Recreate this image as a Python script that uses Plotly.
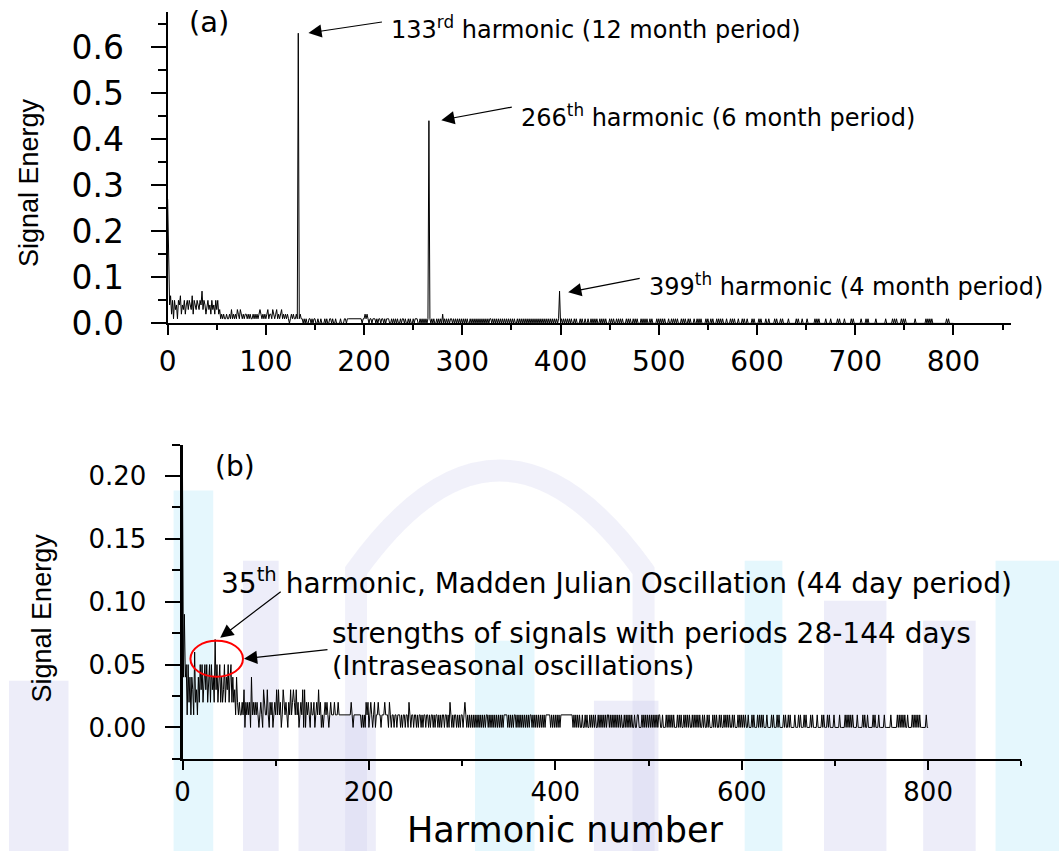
import plotly.graph_objects as go

# Signal energy per harmonic, in hundredths
# Panel (a): harmonics 0..800
energy_a_hundredths = [
    27,9,4,6,2,5,1,5,3,4, 1,5,4,6,2,4,3,5,2,4,      # 0-19
    5,3,5,4,3,6,2,5,4,3, 5,4,3,5,4,7,3,5,4,2,       # 20-39
    4,5,3,4,2,5,3,4,2,5, 3,5,2,3,1,2,1,2,1,1,       # 40-59
    2,1,1,2,1,3,1,2,1,2, 1,3,2,1,3,2,1,2,1,2,       # 60-79
    2,1,2,1,2,1,1,2,1,2, 1,2,1,2,3,2,1,2,1,2,       # 80-99
    1,2,3,1,2,2,1,3,2,1, 2,3,1,2,1,2,3,1,2,1,       # 100-119
    2,1,2,1,0,1,2,1,2,1, 1,2,1,63,1,2,1,1,0,1,      # 120-139
    0,1,0,0,1,1,0,1,0,1, 1,0,0,1,0,0,1,0,0,0,       # 140-159
    1,0,1,0,0,1,1,0,1,0, 0,1,0,0,0,0,1,0,0,0,       # 160-179
    1,1,0,1,1,1,1,1,1,1, 1,1,1,1,1,1,1,1,0,1,       # 180-199
    1,2,1,2,1,0,1,1,0,1, 1,1,0,1,0,1,1,0,1,1,       # 200-219
    0,1,0,1,1,1,0,0,1,0, 1,0,1,0,1,0,0,1,0,1,       # 220-239
    1,0,1,0,0,1,0,1,0,0, 1,0,1,1,1,0,0,1,0,1,       # 240-259
    0,1,0,1,0,1,44,1,0,1, 0,1,0,0,1,0,1,0,1,0,      # 260-279
    2,0,1,0,1,0,1,0,1,1, 0,1,0,1,0,1,0,1,0,1,       # 280-299
    0,1,0,1,0,1,0,0,1,0, 1,0,1,0,1,0,1,0,1,0,       # 300-319
    1,0,1,0,1,0,1,0,1,1, 0,1,0,1,0,1,0,1,0,1,       # 320-339
    0,1,0,1,0,1,0,1,0,1, 0,1,0,1,0,0,1,0,1,0,       # 340-359
    1,0,1,0,1,0,1,0,1,0, 1,0,1,0,1,0,1,0,1,0,       # 360-379
    1,0,1,0,1,0,1,0,1,0, 1,0,1,0,1,0,1,0,1,7,       # 380-399
    0,1,0,1,0,1,0,1,0,1, 0,1,0,0,1,0,1,0,0,0,       # 400-419
    1,0,1,0,0,1,0,0,1,0, 0,1,0,1,0,1,0,1,0,0,       # 420-439
    1,0,1,0,1,0,1,0,0,0, 1,0,1,0,1,0,0,1,0,1,       # 440-459
    0,1,0,1,0,0,0,1,0,1, 0,1,0,0,1,0,1,0,1,0,       # 460-479
    0,0,1,0,1,0,1,0,1,0, 0,1,0,1,0,0,0,0,1,0,       # 480-499
    1,0,1,0,1,0,1,0,0,0, 1,0,0,1,0,1,0,1,0,1,       # 500-519
    0,0,0,1,0,1,0,1,0,0, 1,0,1,0,0,0,1,0,0,1,       # 520-539
    0,1,0,1,0,0,0,0,1,0, 1,0,0,1,0,1,0,0,0,1,       # 540-559
    0,1,0,1,0,1,0,0,0,1, 0,0,0,1,0,1,0,1,0,0,       # 560-579
    0,1,0,0,0,1,0,1,0,0, 1,0,0,0,0,1,0,1,0,0,       # 580-599
    0,0,1,0,1,0,0,0,0,1, 0,0,1,0,0,0,0,0,1,0,       # 600-619
    1,0,0,0,1,0,1,0,0,0, 0,0,1,0,0,0,0,0,0,0,       # 620-639
    1,0,1,0,0,0,1,0,0,0, 0,1,0,0,0,0,0,0,0,1,       # 640-659
    0,1,0,1,0,0,0,0,0,0, 1,0,0,0,0,1,0,0,0,0,       # 660-679
    0,0,1,0,1,0,0,0,0,1, 0,0,0,0,0,0,1,0,1,0,       # 680-699
    0,0,0,0,0,0,1,0,0,0, 0,1,0,1,0,0,0,0,0,0,       # 700-719
    0,1,0,0,0,0,0,0,0,0, 0,1,0,0,0,0,0,0,1,0,       # 720-739
    1,0,1,0,0,0,0,1,0,1, 0,1,0,0,0,0,0,0,0,0,       # 740-759
    0,1,0,0,0,0,0,0,0,0, 0,0,1,0,1,0,1,0,1,0,       # 760-779
    0,0,0,0,0,0,0,0,0,0, 0,0,0,1,0,1,0,0,0,0,       # 780-799
    0,                                              # 800
]

# Panel (b): harmonics 0..800
energy_b_hundredths = [
    20,4,9,4,5,1,5,2,4,1, 4,3,1,6,2,3,1,4,2,5,      # 0-19
    3,5,2,4,5,3,5,2,4,5, 2,5,3,4,2,7,3,5,2,4,       # 20-39
    5,2,4,2,3,5,2,4,3,5, 2,4,5,2,4,2,3,1,4,2,       # 40-59
    1,2,1,1,2,1,3,0,2,1, 2,1,2,0,4,1,2,1,2,1,       # 60-79
    2,1,0,1,2,1,0,3,2,1, 1,3,1,0,2,1,2,0,1,2,       # 80-99
    1,3,1,3,1,2,0,1,3,2, 1,2,1,0,2,1,3,1,2,3,       # 100-119
    2,1,3,1,2,0,1,2,1,3, 0,3,0,2,1,2,1,0,2,1,       # 120-139
    1,2,0,1,2,1,3,1,2,0, 1,0,1,2,1,2,1,0,1,2,       # 140-159
    1,1,1,2,1,1,1,2,1,1, 1,1,1,1,1,1,1,1,1,1,       # 160-179
    1,2,1,0,1,1,1,1,1,1, 1,1,0,1,0,1,0,2,1,2,       # 180-199
    0,1,2,1,0,1,2,0,1,1, 2,1,1,0,1,1,1,2,1,1,       # 200-219
    1,0,2,1,0,1,1,0,1,1, 0,1,1,1,0,1,0,1,1,0,       # 220-239
    1,1,0,2,1,0,1,1,0,1, 1,0,1,0,1,1,0,1,0,1,       # 240-259
    1,0,1,1,0,1,0,1,1,0, 1,0,1,1,0,1,0,1,0,1,       # 260-279
    1,0,1,1,0,1,0,2,1,0, 1,0,1,1,0,1,0,1,0,1,       # 280-299
    1,0,1,2,1,0,1,0,1,0, 1,0,1,0,1,0,1,0,1,0,       # 300-319
    1,0,1,0,1,0,1,1,0,1, 0,1,0,1,0,1,0,1,0,1,       # 320-339
    0,1,0,1,0,1,1,1,1,0, 1,0,1,0,1,0,1,1,0,1,       # 340-359
    0,1,0,1,0,1,0,1,0,1, 0,1,0,1,1,0,1,0,1,0,       # 360-379
    1,0,1,0,1,0,1,0,1,0, 1,1,1,1,1,0,1,0,1,0,       # 380-399
    1,0,1,0,1,0,1,1,1,1, 1,1,1,1,1,1,1,1,1,0,       # 400-419
    1,0,1,0,1,0,1,0,0,1, 0,0,1,0,1,0,0,1,0,1,       # 420-439
    0,1,0,1,0,0,1,0,1,0, 1,0,1,0,1,0,1,1,0,1,       # 440-459
    0,1,0,1,0,1,0,1,0,1, 0,1,0,0,1,0,1,0,1,0,       # 460-479
    1,0,1,0,0,1,0,0,1,1, 0,0,0,1,0,1,0,1,0,1,       # 480-499
    0,1,0,1,0,1,0,1,0,1, 0,1,1,0,0,1,0,0,0,1,       # 500-519
    0,1,0,1,0,1,0,1,0,0, 0,1,0,1,0,1,0,0,1,0,       # 520-539
    1,0,1,0,1,0,0,1,0,1, 0,1,0,1,0,1,0,0,1,0,       # 540-559
    1,0,0,1,0,1,0,0,0,1, 0,1,0,1,0,0,1,0,1,0,       # 560-579
    0,1,0,1,0,1,0,1,0,0, 1,0,1,0,0,0,1,0,1,0,       # 580-599
    1,0,1,0,1,0,0,1,0,0, 0,1,0,1,0,0,0,1,0,1,       # 600-619
    0,1,0,1,0,0,0,1,0,0, 0,0,1,0,1,0,0,0,1,0,       # 620-639
    1,0,0,0,0,1,0,1,0,0, 1,0,1,0,0,0,0,1,0,0,       # 640-659
    0,1,0,1,0,0,0,1,0,1, 0,0,0,0,1,0,1,0,0,0,       # 660-679
    0,1,0,0,0,0,1,0,1,0, 0,0,1,0,1,0,0,0,0,1,       # 680-699
    0,0,0,0,0,1,0,0,0,0, 0,1,0,1,0,1,0,1,0,1,       # 700-719
    0,0,0,0,1,0,0,0,0,0, 1,0,1,0,0,1,0,0,0,0,       # 720-739
    0,1,0,1,0,0,0,1,0,0, 0,0,0,1,0,0,0,0,0,0,       # 740-759
    1,0,0,0,0,0,0,1,0,1, 0,1,0,1,0,1,0,0,1,0,       # 760-779
    0,0,0,1,0,1,0,1,0,1, 0,1,0,0,0,0,0,0,1,0,       # 780-799
    0,                                              # 800
]

harmonics_a = list(range(len(energy_a_hundredths)))
harmonics_b = list(range(len(energy_b_hundredths)))
energy_a = [v / 100 for v in energy_a_hundredths]
energy_b = [v / 100 for v in energy_b_hundredths]

# positions below are given in reference-picture pixels (1059 x 851)
W, H = 1059, 851
FIG_H = 872  # page height; picture is taken at this height and fitted to 851
def px(x):
    return x / W
def py(y):
    return 1 - y / H

FONT = "DejaVu Sans"

fig = go.Figure()

# faint background watermark (decorative blocks behind panel b)
LAV = "rgba(175,175,228,0.22)"
CYA = "rgba(160,225,248,0.28)"
watermark_blocks = [
    (0, 680, 60, 851, LAV), (166, 490, 206, 851, CYA), (236, 560, 272, 851, LAV),
    (292, 715, 370, 851, LAV), (470, 640, 530, 851, CYA), (590, 700, 655, 851, LAV),
    (742, 560, 780, 851, CYA), (822, 600, 885, 851, LAV), (922, 620, 975, 851, LAV),
    (995, 560, 1059, 851, CYA),
]
for x0, y0, x1, y1, c in watermark_blocks:
    fig.add_shape(type="rect", xref="paper", yref="paper", x0=px(x0), x1=px(x1),
                  y0=py(y1), y1=py(y0), fillcolor=c, line=dict(width=0), layer="below")
fig.add_shape(type="path", xref="paper", yref="paper", layer="below",
              path=f"M {px(350)} {py(851)} L {px(350)} {py(570)} Q {px(495)} {py(370)} {px(640)} {py(570)} L {px(640)} {py(851)}",
              line=dict(color="rgba(190,190,232,0.22)", width=22))

fig.add_trace(go.Scatter(x=harmonics_a, y=energy_a, mode="lines",
                         line=dict(color="black", width=1),
                         xaxis="x", yaxis="y", showlegend=False, hoverinfo="skip"))
fig.add_trace(go.Scatter(x=harmonics_b, y=energy_b, mode="lines",
                         line=dict(color="black", width=1),
                         xaxis="x2", yaxis="y2", showlegend=False, hoverinfo="skip"))

common_axis = dict(showgrid=False, zeroline=False, showline=True, linecolor="black",
                   ticks="outside", tickcolor="black", tickwidth=2)

fig.update_layout(
    width=W, height=FIG_H, margin=dict(l=0, r=0, t=0, b=0),
    paper_bgcolor="white", plot_bgcolor="rgba(0,0,0,0)",
    xaxis=dict(domain=[px(160), px(1011)], range=[0, 859], anchor="y",
               tickmode="linear", tick0=0, dtick=100, ticklen=10, linewidth=2,
               ticklabelstandoff=2,
               minor=dict(ticks="outside", ticklen=5, tickwidth=2, tick0=0, dtick=50, tickcolor="black"),
               tickfont=dict(family=FONT, size=28, color="black"), **common_axis),
    yaxis=dict(domain=[py(323), py(12)], range=[0, 0.676], anchor="x",
               tickmode="linear", tick0=0, dtick=0.1, tickformat=".1f", ticklen=15, linewidth=2,
               ticklabelstandoff=20,
               minor=dict(ticks="outside", ticklen=8, tickwidth=2, tick0=0, dtick=0.05, tickcolor="black"),
               tickfont=dict(family=FONT, size=33, color="black"), **common_axis),
    xaxis2=dict(domain=[px(175), px(1021)], range=[0, 900], anchor="y2",
                tickmode="linear", tick0=0, dtick=200, ticklen=9, linewidth=2,
                minor=dict(ticks="outside", ticklen=5, tickwidth=2, tick0=0, dtick=100, tickcolor="black"),
                tickfont=dict(family=FONT, size=26, color="black"), **common_axis),
    yaxis2=dict(domain=[py(758), py(444)], range=[-0.025, 0.225], anchor="x2",
                tickmode="linear", tick0=0, dtick=0.05, tickformat=".2f", ticklen=15, linewidth=3,
                ticklabelstandoff=13,
                minor=dict(ticks="outside", ticklen=8, tickwidth=2, tick0=0, dtick=0.025, tickcolor="black"),
                tickfont=dict(family=FONT, size=26, color="black"), **common_axis),
)

ann = []
def text(x, y, s, size, xanchor="left", angle=0, family=FONT):
    ann.append(dict(x=px(x), y=py(y), xref="paper", yref="paper", text=s, showarrow=False,
                    xanchor=xanchor, yanchor="middle", textangle=angle,
                    font=dict(family=family, size=size, color="black")))

def arrow(tip_x, tip_y, tail_x, tail_y):
    k = FIG_H / H
    ann.append(dict(x=px(tip_x), y=py(tip_y), xref="paper", yref="paper", text="",
                    showarrow=True, ax=tail_x - tip_x, ay=(tail_y - tip_y) * k,
                    arrowhead=2, arrowsize=2.2, arrowwidth=1.2, arrowcolor="black",
                    standoff=0, startstandoff=0))

# axis titles
text(20, 182, "Signal Energy", 27, xanchor="center", angle=-90, family="Liberation Sans")
text(33, 617, "Signal Energy", 27, xanchor="center", angle=-90, family="Liberation Sans")
text(561, 829, "Harmonic number", 35, xanchor="center")

# panel (a)
text(202, 22, "(a)", 29, xanchor="center")
text(383, 28, "133<sup>rd</sup> harmonic (12 month period)", 24)
text(514, 116, "266<sup>th</sup> harmonic (6 month period)", 24)
text(643, 285, "399<sup>th</sup> harmonic (4 month period)", 24)
arrow(302, 33, 377, 22)
arrow(436, 120, 508, 107)
arrow(564, 292, 637, 278)

# panel (b)
text(228, 466, "(b)", 28, xanchor="center")
text(212, 581, "35<sup>th</sup> harmonic, Madden Julian Oscillation (44 day period)", 28)
text(324, 633, "strengths of signals with periods 28-144 days", 28)
text(324, 665, "(Intraseasonal oscillations)", 27)
arrow(213, 637, 275, 591)
arrow(237, 658, 322, 649)

fig.update_layout(annotations=ann)
fig.add_shape(type="circle", xref="paper", yref="paper",
              x0=px(183), x1=px(236), y0=py(676), y1=py(640),
              line=dict(color="red", width=2))

page_fix = (
    "var d=document.documentElement,b=document.body;"
    "d.style.margin='0';d.style.padding='0';d.style.overflow='hidden';"
    "b.style.margin='0';b.style.padding='0';b.style.overflow='hidden';"
    "var g=document.getElementById('{plot_id}');"
    "g.style.position='fixed';g.style.left='0px';g.style.top='0px';"
)
fig.write_html("out.html", config={"displayModeBar": False}, post_script=page_fix)
